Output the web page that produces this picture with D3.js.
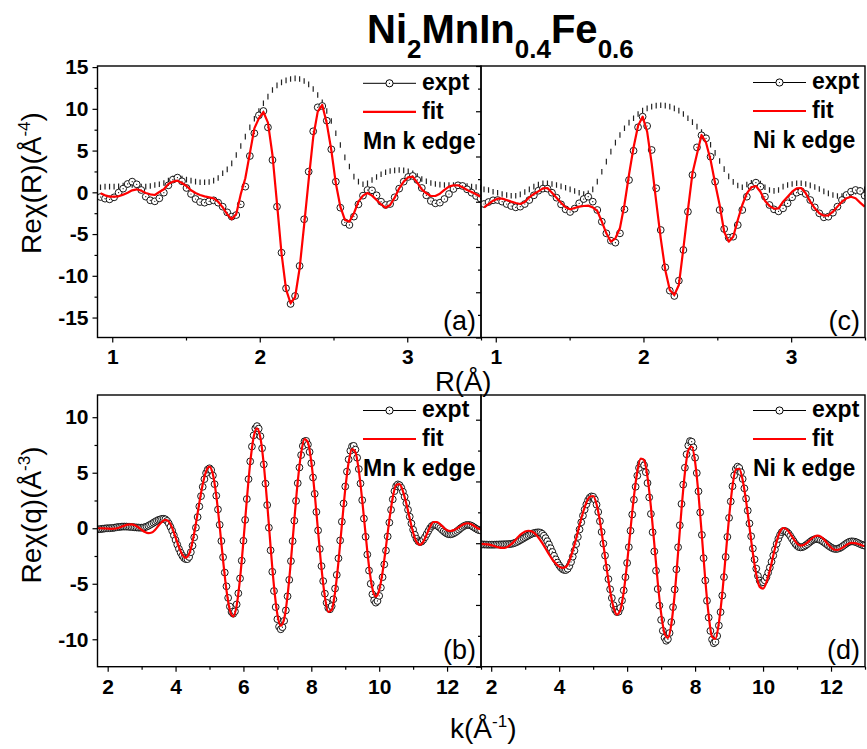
<!DOCTYPE html>
<html>
<head>
<meta charset="utf-8">
<script src="https://cdn.jsdelivr.net/npm/d3@7"></script>
<style>
  html, body { margin: 0; padding: 0; background: #fff; }
  svg text { font-family: "Liberation Sans", Arial, Helvetica, sans-serif; }
</style>
</head>
<body>
<svg id="chart" width="867" height="749"></svg>
<script>
// ---------- R space (Fourier transform), uniform grid ----------
const rStart = 0.9204, rStep = 0.03068;

// Mn K edge, Re chi(R)
const mnRExpt = [-0.56,-0.76,-0.84,-0.6,-0.04,0.44,1.0,1.28,0.96,0.28,
  -0.52,-0.96,-1.08,-0.72,-0.04,0.84,1.52,1.76,1.32,0.52,
  -0.2,-0.8,-1.16,-1.24,-1.08,-0.96,-1.24,-1.72,-2.4,-2.91,
  -2.72,-1.44,0.68,4.35,7.07,9.22,9.74,7.78,3.87,-1.72,
  -7.23,-11.5,-13.37,-12.42,-8.82,-3.23,2.48,7.31,10.18,10.34,
  8.58,5.15,1.28,-1.84,-3.59,-3.91,-2.91,-1.44,-0.4,0.28,
  0.24,-0.36,-1.12,-1.52,-1.4,-0.6,0.44,1.28,1.84,1.96,
  1.48,0.52,-0.36,-1.04,-1.32,-1.24,-0.8,-0.2,0.4,0.84,
  0.76,0.36,-0.04,-0.44,-0.76];
const mnRFit = [-0.12,-0.36,-0.52,-0.52,-0.48,-0.28,-0.04,0.24,0.36,0.2,
  -0.08,-0.24,-0.32,0.04,0.36,1.0,1.28,1.4,1.12,0.76,
  0.24,-0.08,-0.32,-0.48,-0.6,-0.72,-1.12,-1.8,-2.63,-3.23,
  -2.59,-0.2,1.68,4.67,7.66,8.86,9.62,8.34,4.47,-1.32,
  -7.31,-11.62,-13.29,-12.57,-9.1,-3.91,1.48,6.59,9.66,10.46,
  8.26,5.07,1.08,-1.72,-3.31,-3.51,-2.51,-1.12,-0.4,-0.08,
  -0.4,-0.92,-1.44,-1.84,-1.52,-0.64,0.48,1.28,1.8,1.88,
  1.16,0.36,-0.12,-0.44,-0.44,-0.16,0.28,0.68,0.84,0.84,
  0.6,0.28,0.04,-0.24,-0.52];
// |chi(R)| envelope
const mnRMag = [0.6,0.68,0.68,0.68,0.72,0.8,0.88,0.88,0.8,0.68,
  0.68,0.76,0.88,0.96,1.12,1.4,1.64,1.68,1.64,1.52,
  1.4,1.28,1.2,1.2,1.24,1.4,1.72,2.28,2.75,3.47,
  4.47,5.55,6.67,7.78,8.82,9.74,10.66,11.46,12.26,12.81,
  13.17,13.41,13.57,13.65,13.57,13.33,12.93,12.38,11.66,10.78,
  9.74,8.54,7.07,5.67,4.19,3.1,1.88,1.28,0.96,1.08,
  1.48,1.84,2.16,2.4,2.55,2.63,2.67,2.63,2.51,2.28,
  1.96,1.6,1.32,1.12,1.0,0.92,0.88,0.88,0.88,0.88,
  0.84,0.76,0.68,0.64,0.56];

// Ni K edge, Re chi(R)
const niRExpt = [-0.25,-0.03,0.16,0.19,0.01,-0.25,-0.47,-0.62,-0.54,-0.25,
  0.19,0.71,1.22,1.45,1.45,1.0,0.45,-0.29,-0.84,-1.13,
  -0.76,-0.17,0.3,0.56,0.01,-0.91,-2.2,-3.49,-4.3,-4.52,
  -3.49,-0.84,2.4,5.64,8.23,9.4,8.37,5.72,1.49,-3.12,
  -7.25,-9.82,-10.41,-8.72,-5.33,-1.1,2.96,6.01,7.34,7.01,
  4.98,2.22,-0.91,-3.01,-3.97,-3.86,-2.57,-0.91,0.56,1.67,
  2.11,1.67,0.56,-0.36,-0.84,-1.06,-0.73,-0.17,0.49,1.0,
  1.15,0.86,0.19,-0.62,-1.28,-1.72,-1.65,-1.21,-0.54,0.19,
  0.75,1.12,1.3,1.19,0.67];
const niRFit = [-0.62,-0.25,0.12,0.34,0.34,0.19,0.01,-0.14,-0.25,-0.03,
  0.49,0.86,1.15,1.48,1.52,1.0,0.45,-0.1,-0.62,-0.84,
  -0.69,-0.54,-0.47,-0.43,-0.62,-1.02,-2.2,-3.49,-4.41,-4.04,
  -2.9,-0.3,3.0,6.0,8.4,9.4,7.74,4.24,0.01,-4.04,
  -7.54,-9.75,-10.3,-9.2,-5.15,-0.91,3.14,5.28,7.38,6.53,
  4.61,2.04,-0.36,-3.31,-4.41,-3.86,-2.02,-0.36,0.93,1.6,
  1.74,1.11,0.12,-0.47,-0.76,-0.73,0.01,0.56,1.11,1.48,
  1.52,0.93,0.01,-0.73,-1.28,-1.54,-1.5,-1.1,-0.54,0.01,
  0.38,0.56,0.38,-0.1,-0.54];
const niRMag = [1.37,1.3,1.11,1.0,0.86,0.75,0.67,0.67,0.82,1.08,
  1.37,1.67,1.89,2.04,2.04,1.96,1.85,1.7,1.55,1.37,
  1.19,1.0,0.86,0.93,1.37,2.22,3.32,4.43,5.54,6.53,
  7.38,8.12,8.74,9.22,9.7,10.07,10.32,10.51,10.62,10.66,
  10.62,10.51,10.32,10.07,9.7,9.22,8.8,8.3,7.7,7.1,
  6.3,5.4,4.5,3.6,2.8,2.2,1.8,1.6,1.9,2.1,
  2.2,2.0,1.6,1.3,1.2,1.3,1.67,1.85,1.96,2.04,
  2.04,1.96,1.81,1.63,1.41,1.15,0.93,0.75,0.64,0.64,
  0.75,0.93,1.11,1.3,1.37];

// ---------- q space (back transform) ----------
const kStart = 1.7, kStepExpt = 0.05, kStepFit = 0.1;

const mnQExpt = [-0.1,-0.09,-0.07,-0.05,-0.03,-0.01,
  0,0,0.01,0.03,0.05,0.08,0.1,0.12,0.14,0.15,
  0.15,0.15,0.14,0.13,0.11,0.1,0.08,0.07,0.06,0.05,
  0.05,0.06,0.1,0.15,0.22,0.31,0.4,0.5,0.59,0.68,0.75,0.8,0.84,
  0.85,0.8,0.66,0.43,0.12,-0.23,-0.64,-1.06,-1.48,-1.86,-2.2,-2.48,-2.68,-2.78,
  -2.78,-2.59,-2.16,-1.57,-0.82,0.05,1.01,1.96,2.89,3.73,4.42,4.97,5.29,
  5.4,5.24,4.75,3.97,2.93,1.69,0.31,-1.15,-2.61,-3.99,-5.23,-6.27,-7.05,-7.54,
  -7.7,-7.49,-6.86,-5.86,-4.52,-2.92,-1.13,0.75,2.63,4.42,6.02,7.36,8.36,8.99,
  9.2,8.97,8.29,7.2,5.75,4.02,2.09,0.05,-1.99,-3.92,-5.65,-7.1,-8.19,-8.87,
  -9.1,-8.91,-8.34,-7.4,-6.13,-4.65,-2.96,-1.16,0.68,2.46,4.06,5.47,6.59,7.41,7.83,
  7.87,7.54,6.87,5.86,4.57,3.1,1.47,-0.2,-1.87,-3.41,-4.76,-5.89,-6.71,-7.18,
  -7.3,-7.02,-6.4,-5.43,-4.2,-2.71,-1.1,0.59,2.23,3.76,5.1,6.2,6.98,7.38,
  7.42,7.08,6.35,5.33,4.03,2.53,0.87,-0.77,-2.37,-3.81,-5.0,-5.95,-6.5,
  -6.7,-6.55,-6.09,-5.35,-4.41,-3.26,-2.01,-0.74,0.51,1.66,2.6,3.34,3.79,
  3.95,3.88,3.65,3.29,2.83,2.27,1.66,1.04,0.43,-0.13,-0.59,-0.95,-1.17,
  -1.25,-1.2,-1.04,-0.81,-0.53,-0.25,0.01,0.2,0.29,
  0.29,0.24,0.14,0.02,-0.13,-0.27,-0.39,-0.49,-0.54,
  -0.55,-0.52,-0.45,-0.36,-0.25,-0.13,0,0.11,0.2,0.27,0.3,
  0.29,0.25,0.17,0.07,-0.03,-0.12,-0.18,-0.2];
const mnQFit = [0.0,0.0,-0.02,-0.03,-0.05,-0.04,0.02,0.13,0.24,0.32,
  0.35,0.27,0.09,-0.14,-0.34,-0.44,-0.39,-0.13,0.25,0.58,
  0.75,0.6,0.03,-0.82,-1.69,-2.37,-2.65,-2.31,-1.21,0.43,
  2.28,3.96,5.13,5.55,4.86,2.94,0.17,-2.87,-5.58,-7.39,
  -7.94,-6.97,-4.54,-1.15,2.57,5.88,8.19,9.0,8.15,5.73,
  2.24,-1.66,-5.22,-7.76,-8.79,-8.16,-6.06,-2.89,0.76,4.19,
  6.77,8.02,7.72,5.97,3.11,-0.3,-3.6,-6.18,-7.53,-7.37,
  -5.77,-3.03,0.28,3.49,5.94,7.13,6.85,5.19,2.53,-0.56,
  -3.43,-5.42,-6.15,-5.57,-3.95,-1.66,0.76,2.77,3.9,3.97,
  3.33,2.21,0.87,-0.38,-1.23,-1.5,-1.2,-0.56,0.14,0.56,
  0.56,0.35,0.06,-0.18,-0.25,-0.17,0.0,0.2,0.37,0.45,
  0.39,0.2,-0.01,-0.1];

const niQExpt = [-0.1,-0.1,-0.11,-0.11,-0.12,-0.12,-0.12,-0.12,-0.12,-0.11,-0.11,-0.1,-0.1,-0.09,-0.09,-0.08,
  -0.08,-0.07,-0.05,-0.02,0.03,0.09,0.16,0.24,0.32,0.4,0.48,0.56,0.64,0.71,0.77,0.82,0.85,0.87,
  0.88,0.85,0.76,0.61,0.41,0.16,-0.1,-0.41,-0.71,-1.02,-1.31,-1.57,-1.79,-1.97,-2.1,-2.17,
  -2.17,-2.07,-1.85,-1.52,-1.09,-0.61,-0.07,0.51,1.11,1.69,2.23,2.72,3.14,3.47,3.69,3.79,
  3.76,3.54,3.12,2.53,1.78,0.91,-0.03,-1.0,-1.98,-2.91,-3.73,-4.44,-5.02,-5.4,-5.58,
  -5.55,-5.24,-4.64,-3.82,-2.75,-1.6,-0.32,1.01,2.32,3.52,4.57,5.47,6.1,6.46,
  6.56,6.31,5.75,4.87,3.71,2.37,0.89,-0.67,-2.23,-3.71,-5.05,-6.21,-7.09,-7.65,-7.9,
  -7.77,-7.27,-6.39,-5.18,-3.75,-2.12,-0.33,1.45,3.18,4.74,6.11,7.2,7.91,8.27,
  8.22,7.76,6.92,5.68,4.2,2.49,0.67,-1.21,-3.02,-4.66,-6.02,-7.1,-7.8,-8.1,
  -7.99,-7.51,-6.67,-5.58,-4.24,-2.74,-1.11,0.51,2.05,3.38,4.61,5.49,6.01,
  6.2,6.09,5.75,5.2,4.44,3.61,2.64,1.6,0.56,-0.43,-1.32,-2.06,-2.65,-3.03,-3.2,
  -3.16,-3.01,-2.75,-2.38,-1.97,-1.5,-1.0,-0.51,-0.05,0.35,0.67,0.89,0.99,
  0.99,0.91,0.78,0.59,0.37,0.16,-0.05,-0.2,-0.31,-0.34,
  -0.32,-0.27,-0.18,-0.08,0.03,0.14,0.24,0.3,0.34,
  0.33,0.3,0.24,0.16,0.06,-0.04,-0.15,-0.25,-0.34,-0.41,-0.46,
  -0.47,-0.45,-0.4,-0.33,-0.23,-0.13,-0.03,0.06,0.12,0.15,
  0.14,0.12,0.07,0.01,-0.06,-0.12,-0.17,-0.2];
const niQFit = [-0.06,-0.07,-0.1,-0.16,-0.24,-0.32,-0.38,
  -0.38,-0.27,-0.06,0.22,0.52,0.77,0.95,
  1.01,0.94,0.74,0.42,0.02,-0.43,-0.89,-1.32,-1.65,-1.9,-2.0,
  -1.91,-1.44,-0.6,0.38,1.48,2.47,3.29,3.76,
  3.82,3.16,1.78,-0.07,-2.08,-3.88,-5.2,-5.78,
  -5.42,-3.94,-1.6,1.14,3.77,5.81,6.86,
  6.73,5.35,2.94,-0.05,-3.14,-5.66,-7.29,
  -7.67,-6.58,-4.11,-0.77,2.73,5.69,7.52,
  7.83,6.59,3.97,0.58,-2.96,-5.83,-7.57,
  -7.74,-6.45,-4.07,-1.0,2.09,4.6,5.97,
  6.03,5.1,3.43,1.32,-0.81,-2.53,-3.54,
  -3.67,-3.16,-2.19,-1.0,0.14,0.94,1.23,
  1.11,0.77,0.34,-0.02,-0.19,
  -0.15,0.04,0.3,0.51,0.61,
  0.53,0.29,-0.04,-0.34,-0.53,
  -0.54,-0.42,-0.25,-0.07,0.03,
  0.01,-0.06,-0.16,-0.25];

// ---------- tick values ----------
const rMajor = [1, 2, 3], rMinor = [1.5, 2.5, 3.5];
const kMajor = [2, 4, 6, 8, 10, 12], kMinor = [3, 5, 7, 9, 11, 13];
const yRMajor = [-15, -10, -5, 0, 5, 10, 15], yRMinor = [-12.5, -7.5, -2.5, 2.5, 7.5, 12.5];
const yRNiMajor = [-15, -10, -5, 0, 5, 10, 15], yRNiMinor = [-12.5, -7.5, -2.5, 2.5, 7.5, 12.5];
const yQMajor = [-10, -5, 0, 5, 10], yQMinor = [-7.5, -2.5, 2.5, 7.5];
const yQNiMajor = [-10, -5, 0, 5, 10], yQNiMinor = [-7.5, -2.5, 2.5, 7.5];

const legendLabels = ["expt", "fit"];

// ---------- drawing ----------
const svg = d3.select("#chart");
const LEFT = 97.5, MID = 481, RIGHT = 865;
const TOP1 = 66, BOT1 = 337.5, TOP2 = 395, BOT2 = 666.7;

function series(start, step, vals) {
  return vals.map((v, i) => ({ x: start + i * step, v }));
}

function drawPanel(cfg) {
  const x = d3.scaleLinear().domain(cfg.xDomain).range([cfg.left, cfg.right]);
  const y = d3.scaleLinear().domain(cfg.yDomain).range([cfg.bottom, cfg.top]);
  const g = svg.append("g");
  const clipId = "clip-" + cfg.name;
  svg.append("clipPath").attr("id", clipId).append("rect")
    .attr("x", cfg.left).attr("y", cfg.top)
    .attr("width", cfg.right - cfg.left).attr("height", cfg.bottom - cfg.top);
  const plot = g.append("g").attr("clip-path", `url(#${clipId})`);

  // envelope |chi(R)| as short vertical bars
  if (cfg.mag) {
    plot.append("g").selectAll("line").data(cfg.mag).join("line")
      .attr("x1", d => x(d.x)).attr("x2", d => x(d.x))
      .attr("y1", d => y(d.v) - 2.8).attr("y2", d => y(d.v) + 2.8)
      .attr("stroke", "#222").attr("stroke-width", 1.2);
  }
  // experimental points
  const pts = plot.append("g").selectAll("g").data(cfg.expt).join("g")
    .attr("transform", d => `translate(${x(d.x)},${y(d.v)})`);
  pts.append("circle").attr("r", 3.4).attr("fill", "#fff")
    .attr("stroke", "#000").attr("stroke-width", 0.9);
  pts.append("circle").attr("r", 0.6).attr("fill", "#000");

  // fit
  plot.append("path").datum(cfg.fit)
    .attr("d", d3.line().x(d => x(d.x)).y(d => y(d.v)).curve(cfg.curve || d3.curveLinear))
    .attr("fill", "none").attr("stroke", "#ff0000").attr("stroke-width", 2.2)
    .attr("stroke-linejoin", "round");

  // axes
  const fmt = d => String(d);
  const styleAxis = sel => {
    sel.select(".domain").remove();
    sel.selectAll(".tick line").attr("stroke", "#000").attr("stroke-width", 1.2);
    sel.selectAll(".tick text").attr("font-size", 21).attr("font-weight", "bold")
      .attr("fill", "#000").attr("font-family", '"Liberation Sans", Arial, sans-serif');
  };
  g.append("g").attr("transform", `translate(0,${cfg.bottom})`)
    .call(d3.axisBottom(x).tickValues(cfg.xMajor).tickSize(5).tickSizeOuter(0).tickPadding(7).tickFormat(fmt))
    .call(styleAxis);
  g.append("g").attr("transform", `translate(0,${cfg.bottom})`)
    .call(d3.axisBottom(x).tickValues(cfg.xMinor).tickSize(3).tickSizeOuter(0).tickFormat(""))
    .call(styleAxis);
  g.append("g").attr("transform", `translate(${cfg.left},0)`)
    .call(d3.axisLeft(y).tickValues(cfg.yMajor).tickSize(5).tickSizeOuter(0).tickPadding(4)
      .tickFormat(cfg.yLabels ? fmt : ""))
    .call(styleAxis);
  g.append("g").attr("transform", `translate(${cfg.left},0)`)
    .call(d3.axisLeft(y).tickValues(cfg.yMinor).tickSize(3).tickSizeOuter(0).tickFormat(""))
    .call(styleAxis);

  // frame
  g.append("rect").attr("x", cfg.left).attr("y", cfg.top)
    .attr("width", cfg.right - cfg.left).attr("height", cfg.bottom - cfg.top)
    .attr("fill", "none").attr("stroke", "#000").attr("stroke-width", 1.4);

  // legend
  const lx = cfg.legendX, ly = cfg.legendY;
  const leg = g.append("g");
  leg.append("line").attr("x1", lx).attr("x2", lx + 53).attr("y1", ly).attr("y2", ly)
    .attr("stroke", "#000").attr("stroke-width", 1);
  leg.append("circle").attr("cx", lx + 26.5).attr("cy", ly).attr("r", 3.6)
    .attr("fill", "#fff").attr("stroke", "#000").attr("stroke-width", 1);
  leg.append("circle").attr("cx", lx + 26.5).attr("cy", ly).attr("r", 0.6).attr("fill", "#000");
  leg.append("text").attr("x", lx + 59).attr("y", ly + 6.5).text(legendLabels[0])
    .attr("font-size", 23).attr("font-weight", "bold");
  leg.append("line").attr("x1", lx).attr("x2", lx + 53).attr("y1", ly + 28.5).attr("y2", ly + 28.5)
    .attr("stroke", "#ff0000").attr("stroke-width", 2.2);
  leg.append("text").attr("x", lx + 59).attr("y", ly + 35.5).text(legendLabels[1])
    .attr("font-size", 23).attr("font-weight", "bold");
  leg.append("text").attr("x", lx).attr("y", ly + 65.5).text(cfg.edge)
    .attr("font-size", 23).attr("font-weight", "bold");

  // panel tag
  g.append("text").attr("x", cfg.right - 5).attr("y", cfg.bottom - 8)
    .attr("text-anchor", "end").attr("font-size", 27).text(cfg.tag);
}

drawPanel({
  name: "a", left: LEFT, right: MID, top: TOP1, bottom: BOT1,
  xDomain: [0.9, 3.5], yDomain: [-17.39, 15.13],
  expt: series(rStart, rStep, mnRExpt), fit: series(rStart, rStep, mnRFit), mag: series(rStart, rStep, mnRMag),
  xMajor: rMajor, xMinor: rMinor, yMajor: yRMajor, yMinor: yRMinor, yLabels: true,
  legendX: 363, legendY: 83.3, edge: "Mn k edge", tag: "(a)"
});
drawPanel({
  name: "c", left: MID, right: RIGHT, top: TOP1, bottom: BOT1,
  xDomain: [0.9, 3.5], yDomain: [-15, 15],
  expt: series(rStart, rStep, niRExpt), fit: series(rStart, rStep, niRFit), mag: series(rStart, rStep, niRMag),
  xMajor: rMajor, xMinor: rMinor, yMajor: yRNiMajor, yMinor: yRNiMinor, yLabels: false,
  legendX: 753, legendY: 82.5, edge: "Ni k edge", tag: "(c)"
});
drawPanel({
  name: "b", left: LEFT, right: MID, top: TOP2, bottom: BOT2,
  xDomain: [1.7, 13], yDomain: [-12.47, 12.0],
  expt: series(kStart, kStepExpt, mnQExpt), fit: series(kStart, kStepFit, mnQFit), curve: d3.curveMonotoneX,
  xMajor: kMajor, xMinor: kMinor, yMajor: yQMajor, yMinor: yQMinor, yLabels: true,
  legendX: 363, legendY: 410.5, edge: "Mn k edge", tag: "(b)"
});
drawPanel({
  name: "d", left: MID, right: RIGHT, top: TOP2, bottom: BOT2,
  xDomain: [1.7, 13], yDomain: [-10, 12],
  expt: series(kStart, kStepExpt, niQExpt), fit: series(kStart, kStepFit, niQFit), curve: d3.curveMonotoneX,
  xMajor: kMajor, xMinor: kMinor, yMajor: yQNiMajor, yMinor: yQNiMinor, yLabels: false,
  legendX: 753, legendY: 410.5, edge: "Ni k edge", tag: "(d)"
});

// title with subscripts
const title = svg.append("text").attr("x", 367).attr("y", 43)
  .attr("font-weight", "bold").attr("font-size", 40);
const parts = [["Ni", 0], ["2", 1], ["MnIn", 0], ["0.4", 1], ["Fe", 0], ["0.6", 1]];
let down = false;
parts.forEach(([t, sub]) => {
  const dy = sub && !down ? 15 : (!sub && down ? -15 : 0);
  down = !!sub;
  title.append("tspan").attr("dy", dy).attr("font-size", sub ? 26 : 40).text(t);
});

// axis titles
function yTitle(cx, cy, inner, sup) {
  const t = svg.append("text").attr("transform", `translate(${cx},${cy}) rotate(-90)`)
    .attr("text-anchor", "middle").attr("font-size", 28);
  t.append("tspan").text(inner);
  t.append("tspan").attr("font-size", 17).attr("dy", -11).text(sup);
  t.append("tspan").attr("dy", 11).text(")");
}
yTitle(41, 183, "Re\u03c7(R)(\u00c5", "-4");
yTitle(41, 515, "Re\u03c7(q)(\u00c5", "-3");

svg.append("text").attr("x", 435).attr("y", 391).attr("font-size", 27.5).text("R(\u00c5)");
const kt = svg.append("text").attr("x", 450).attr("y", 738).attr("font-size", 28);
kt.append("tspan").text("k(\u00c5");
kt.append("tspan").attr("font-size", 17).attr("dy", -11).text("-1");
kt.append("tspan").attr("dy", 11).text(")");
</script>
</body>
</html>
